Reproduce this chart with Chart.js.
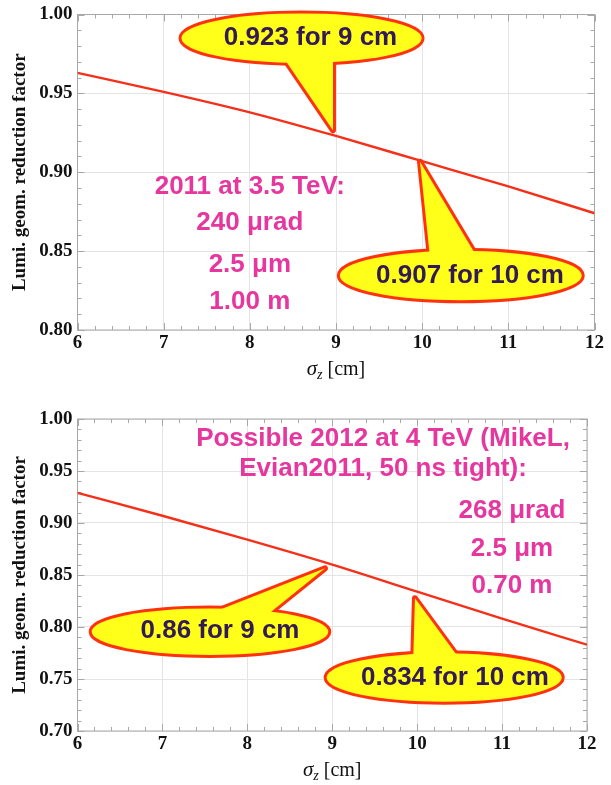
<!DOCTYPE html>
<html><head><meta charset="utf-8">
<script src="https://cdn.jsdelivr.net/npm/chart.js@4"></script>
<style>
html,body{margin:0;padding:0;background:#fff;width:611px;height:785px;overflow:hidden}
.wrap{position:absolute;left:0;width:611px}
canvas{display:block}
</style></head><body>
<div class="wrap" style="top:0;height:390px"><canvas id="c1" width="611" height="390"></canvas></div>
<div class="wrap" style="top:390px;height:395px"><canvas id="c2" width="611" height="395"></canvas></div>
<script>
// ---- data ----
const sigmaZ = [6, 7, 8, 9, 10, 11, 12];
const lumiTop = [0.963, 0.951, 0.938, 0.923, 0.907, 0.891, 0.874];
const lumiBottom = [0.929, 0.907, 0.884, 0.860, 0.834, 0.808, 0.783];
const xTickValues = [6, 7, 8, 9, 10, 11, 12];
const yTickValuesTop = [0.80, 0.85, 0.90, 0.95, 1.00];
const yTickValuesBottom = [0.70, 0.75, 0.80, 0.85, 0.90, 0.95, 1.00];
const yTitle = 'Lumi. geom. reduction factor';
const xTitleMain = 'σ', xTitleSub = 'z', xTitleUnit = ' [cm]';
const calloutTextsTop = ['0.923 for 9 cm', '0.907 for 10 cm'];
const calloutTextsBottom = ['0.86 for 9 cm', '0.834 for 10 cm'];
const notesTop = ['2011 at 3.5 TeV:', '240 μrad', '2.5 μm', '1.00 m'];
const notesBottom = ['Possible 2012 at 4 TeV (MikeL,', 'Evian2011, 50 ns tight):', '268 μrad', '2.5 μm', '0.70 m'];

// ---- annotation placement (data units) ----
const calloutGeomTop = [
  {cx: 8.60, cy: 0.985, rx: 1.393, ry: 0.0157, tip: [8.965, 0.9266], base: [[8.315, 0.9787], [8.965, 0.9787]], tx: 8.704, ty: 0.9865},
  {cx: 10.448, cy: 0.8345, rx: 1.404, ry: 0.0157, tip: [9.975, 0.9066], base: [[10.101, 0.8408], [10.697, 0.8408]], tx: 10.555, ty: 0.836}
];
const calloutGeomBottom = [
  {cx: 7.560, cy: 0.7955, rx: 1.393, ry: 0.0224, tip: [8.915, 0.8564], base: [[7.367, 0.8067], [8.160, 0.8067]], tx: 7.678, ty: 0.798},
  {cx: 10.318, cy: 0.7514, rx: 1.384, ry: 0.0233, tip: [9.974, 0.8276], base: [[9.950, 0.7587], [10.595, 0.7587]], tx: 10.445, ty: 0.7529}
];
const notesGeomTop = {x: [8.0, 8.0, 8.0, 8.0], y: [0.8920, 0.8696, 0.8426, 0.8194]};
const notesGeomBottom = {x: [9.598, 9.598, 11.117, 11.117, 11.117], y: [0.9827, 0.9538, 0.9140, 0.8769, 0.8413]};

const SERIF = '"Liberation Serif", "Times New Roman", serif';
const SANS = '"Liberation Sans", Arial, sans-serif';

const decorPlugin = {
  id: 'decor',
  beforeDatasetsDraw(chart, args, o) {
    const ctx = chart.ctx, a = chart.chartArea, xs = chart.scales.x, ys = chart.scales.y;
    ctx.save();
    ctx.strokeStyle = '#a8a8a8';
    ctx.lineWidth = 1;
    ctx.strokeRect(a.left, a.top, a.right - a.left, a.bottom - a.top);
    ctx.beginPath();
    const nx = Math.round((xs.max - xs.min) / 0.2);
    for (let i = 0; i <= nx; i++) {
      const v = xs.min + i * 0.2;
      const p = Math.round(xs.getPixelForValue(v)) + 0.5;
      const L = (i % 5 === 0) ? 7 : 4;
      ctx.moveTo(p, a.bottom); ctx.lineTo(p, a.bottom - L);
      ctx.moveTo(p, a.top); ctx.lineTo(p, a.top + L);
    }
    const ny = Math.round((ys.max - ys.min) / 0.01);
    for (let i = 0; i <= ny; i++) {
      const v = ys.min + i * 0.01;
      const p = Math.round(ys.getPixelForValue(v)) + 0.5;
      const L = (i % 5 === 0) ? 7 : 4;
      ctx.moveTo(a.left, p); ctx.lineTo(a.left + L, p);
      ctx.moveTo(a.right, p); ctx.lineTo(a.right - L, p);
    }
    ctx.stroke();
    ctx.restore();
  },
  afterDatasetsDraw(chart, args, o) {
    const ctx = chart.ctx, xs = chart.scales.x, ys = chart.scales.y;
    const X = v => xs.getPixelForValue(v), Y = v => ys.getPixelForValue(v);
    ctx.save();
    const shapes = o.callouts.map(c => ({
      cx: X(c.cx), cy: Y(c.cy),
      rx: Math.abs(X(c.cx + c.rx) - X(c.cx)), ry: Math.abs(Y(c.cy + c.ry) - Y(c.cy)),
      tri: [[X(c.base[0][0]), Y(c.base[0][1])], [X(c.tip[0]), Y(c.tip[1])], [X(c.base[1][0]), Y(c.base[1][1])]],
      tx: X(c.tx), ty: Y(c.ty)
    }));
    shapes.forEach((s, i) => {
      ctx.lineJoin = 'round';
      ctx.strokeStyle = '#ff3210';
      ctx.lineWidth = 6;
      ctx.beginPath(); ctx.ellipse(s.cx, s.cy, s.rx, s.ry, 0, 0, Math.PI * 2); ctx.stroke();
      ctx.beginPath(); ctx.moveTo(s.tri[0][0], s.tri[0][1]); ctx.lineTo(s.tri[1][0], s.tri[1][1]); ctx.lineTo(s.tri[2][0], s.tri[2][1]); ctx.closePath(); ctx.stroke();
      ctx.fillStyle = '#ffff1a';
      ctx.beginPath(); ctx.ellipse(s.cx, s.cy, s.rx, s.ry, 0, 0, Math.PI * 2); ctx.fill();
      ctx.beginPath(); ctx.moveTo(s.tri[0][0], s.tri[0][1]); ctx.lineTo(s.tri[1][0], s.tri[1][1]); ctx.lineTo(s.tri[2][0], s.tri[2][1]); ctx.closePath(); ctx.fill();
      ctx.fillStyle = '#321a55';
      ctx.font = 'bold 26px ' + SANS;
      ctx.textAlign = 'center';
      ctx.textBaseline = 'alphabetic';
      ctx.fillText(o.calloutTexts[i], s.tx, s.ty + 0.36 * 26);
    });
    ctx.fillStyle = '#e6379f';
    ctx.font = 'bold 26px ' + SANS;
    ctx.textAlign = 'center';
    ctx.textBaseline = 'alphabetic';
    o.notes.forEach((t, i) => {
      ctx.fillText(t, X(o.notesGeom.x[i]), Y(o.notesGeom.y[i]) + 0.36 * 26);
    });
    ctx.restore();
  },
  afterDraw(chart) {
    const ctx = chart.ctx, a = chart.chartArea;
    ctx.save();
    ctx.fillStyle = '#111';
    ctx.translate(20, (a.top + a.bottom) / 2);
    ctx.rotate(-Math.PI / 2);
    ctx.font = 'bold 19px ' + SERIF;
    ctx.textAlign = 'center';
    ctx.textBaseline = 'middle';
    ctx.fillText(yTitle, 0, 0);
    ctx.setTransform(1, 0, 0, 1, 0, 0);
    const fMain = 'italic 21px ' + SERIF, fSub = 'italic 14px ' + SERIF, fUnit = '20px ' + SERIF;
    ctx.font = fMain; const w1 = ctx.measureText(xTitleMain).width;
    ctx.font = fSub; const w2 = ctx.measureText(xTitleSub).width;
    ctx.font = fUnit; const w3 = ctx.measureText(xTitleUnit).width;
    let x = (a.left + a.right) / 2 - (w1 + w2 + w3) / 2;
    const base = a.bottom + 44.5;
    ctx.textAlign = 'left'; ctx.textBaseline = 'alphabetic';
    ctx.font = fMain; ctx.fillText(xTitleMain, x, base); x += w1;
    ctx.font = fSub; ctx.fillText(xTitleSub, x, base + 4); x += w2;
    ctx.font = fUnit; ctx.fillText(xTitleUnit, x, base);
    ctx.restore();
  }
};

function makeChart(id, values, yTicks, pad, xAxisH, decor) {
  return new Chart(document.getElementById(id), {
    type: 'line',
    data: {datasets: [{
      data: sigmaZ.map((x, i) => ({x: x, y: values[i]})),
      borderColor: '#f5301a', borderWidth: 2.4, pointRadius: 0,
      cubicInterpolationMode: 'monotone', fill: false
    }]},
    options: {
      responsive: false, animation: false, events: [],
      layout: {padding: pad},
      plugins: {legend: {display: false}, tooltip: {enabled: false}, decor: decor},
      scales: {
        x: {
          type: 'linear', min: xTickValues[0], max: xTickValues[xTickValues.length - 1],
          afterBuildTicks: s => { s.ticks = xTickValues.map(v => ({value: v})); },
          afterFit: s => { s.height = xAxisH; },
          grid: {color: '#e4e4e4', drawTicks: false},
          border: {display: false},
          ticks: {padding: 2, color: '#111', maxRotation: 0, autoSkip: false,
            font: {family: SERIF, size: 19, weight: 'bold', lineHeight: 1.2},
            callback: v => String(v)}
        },
        y: {
          type: 'linear', min: yTicks[0], max: yTicks[yTicks.length - 1],
          afterBuildTicks: s => { s.ticks = yTicks.map(v => ({value: v})); },
          afterFit: s => { s.width = 77.5; },
          grid: {color: '#e4e4e4', drawTicks: false},
          border: {display: false},
          ticks: {padding: 5, color: '#111', autoSkip: false,
            font: {family: SERIF, size: 19, weight: 'bold', lineHeight: 1.0},
            callback: v => Number(v).toFixed(2)}
        }
      }
    },
    plugins: [decorPlugin]
  });
}

makeChart('c1', lumiTop, yTickValuesTop, {top: 11, right: 16.5, left: 0, bottom: 0}, 60,
  {callouts: calloutGeomTop, calloutTexts: calloutTextsTop, notes: notesTop, notesGeom: notesGeomTop});
makeChart('c2', lumiBottom, yTickValuesBottom, {top: 29, right: 24, left: 0, bottom: 0}, 54,
  {callouts: calloutGeomBottom, calloutTexts: calloutTextsBottom, notes: notesBottom, notesGeom: notesGeomBottom});
</script>
</body></html>
